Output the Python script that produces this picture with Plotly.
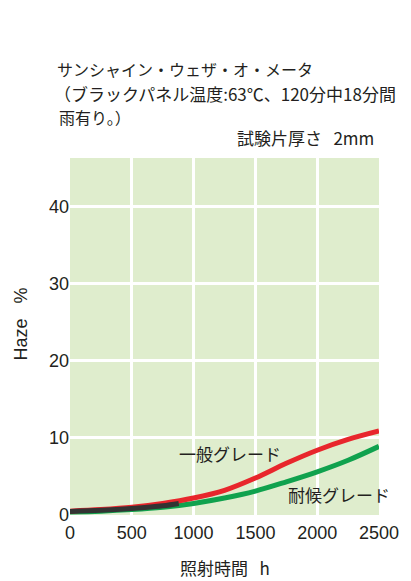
import plotly.graph_objects as go

hours = [0, 250, 500, 750, 1000, 1250, 1500, 1750, 2000, 2250, 2500]
general = [0.5, 0.7, 1.0, 1.5, 2.2, 3.2, 4.8, 6.7, 8.4, 9.8, 10.9]
weather = [0.4, 0.5, 0.7, 1.0, 1.5, 2.2, 3.1, 4.3, 5.6, 7.1, 8.9]
overlap_hours = [0, 250, 500, 750, 880]
overlap = [0.45, 0.6, 0.85, 1.2, 1.5]

xticks = [0, 500, 1000, 1500, 2000, 2500]
yticks = [0, 10, 20, 30, 40]

title_lines = ["サンシャイン・ウェザ・オ・メータ",
               "（ブラックパネル温度:63℃、120分中18分間",
               "雨有り。）"]

JP = "Noto Sans CJK JP"
LAT = "Liberation Sans"
TXT = "#231f20"
NB = "\u00a0"

fig = go.Figure()
fig.add_trace(go.Scatter(x=hours, y=weather, mode="lines", line=dict(color="#10a24e", width=5, shape="spline"), showlegend=False))
fig.add_trace(go.Scatter(x=hours, y=general, mode="lines", line=dict(color="#e8262c", width=5, shape="spline"), showlegend=False))
fig.add_trace(go.Scatter(x=overlap_hours, y=overlap, mode="lines", line=dict(color="#333333", width=5, shape="spline"), showlegend=False))

anns = []
for line, ys, xs, sz in zip(title_lines, [89, 65, 41], [-15, -18, -13], [16, 17, 16]):
    anns.append(dict(x=0, y=1, xref="paper", yref="paper", xanchor="left", yanchor="middle",
                     xshift=xs, yshift=ys, text=line, showarrow=False,
                     font=dict(family=JP, size=sz, color=TXT)))
anns += [
    dict(x=1, y=1, xref="paper", yref="paper", xanchor="right", yanchor="middle", xshift=-3, yshift=21,
         text="試験片厚さ" + NB * 3 + "2mm", showarrow=False, font=dict(family=JP, size=17, color=TXT)),
    dict(x=1294, y=8.0, xanchor="center", yanchor="middle", text="一般グレード", showarrow=False,
         font=dict(family=JP, size=17, color=TXT)),
    dict(x=2178, y=2.6, xanchor="center", yanchor="middle", text="耐候グレード", showarrow=False,
         font=dict(family=JP, size=17, color=TXT)),
    dict(x=0, y=0.5, xref="paper", yref="paper", xanchor="center", yanchor="middle", xshift=-50, yshift=12,
         textangle=-90, text="Haze" + NB * 3 + "%", showarrow=False, font=dict(family=LAT, size=18, color=TXT)),
    dict(x=0.5, y=0, xref="paper", yref="paper", xanchor="center", yanchor="middle", yshift=-52,
         text="照射時間" + NB * 3 + "h", showarrow=False, font=dict(family=JP, size=17, color=TXT)),
]

fig.update_layout(
    width=403, height=573,
    margin=dict(l=62, r=30, t=150, b=66),
    paper_bgcolor="white",
    plot_bgcolor="#dfedcd",
    font=dict(family=LAT, color=TXT, size=18),
    xaxis=dict(range=[0, 2500], tickvals=xticks, showgrid=True, gridcolor="white", gridwidth=3,
               zeroline=False, showline=False, ticks="", ticklabelstandoff=5,
               tickfont=dict(size=18, family=LAT, color=TXT)),
    yaxis=dict(range=[0, 46.3], tickvals=yticks, showgrid=True, gridcolor="white", gridwidth=3,
               zeroline=False, showline=False, ticks="",
               tickfont=dict(size=18, family=LAT, color=TXT)),
    annotations=anns,
)

fig.write_html("out.html")
